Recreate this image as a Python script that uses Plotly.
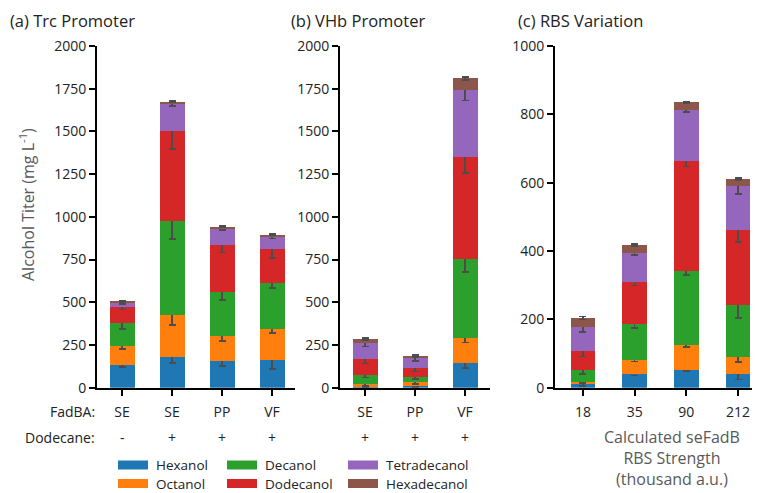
import plotly.graph_objects as go

W, H = 760, 493

species = ["Hexanol", "Octanol", "Decanol", "Dodecanol", "Tetradecanol", "Hexadecanol"]
colors = ["#1f77b4", "#ff7f0e", "#2ca02c", "#d62728", "#9467bd", "#8c564b"]

# Panel (a) Trc promoter
a_fadba = ["SE", "SE", "PP", "VF"]
a_dodecane = ["-", "+", "+", "+"]
a_vals = {
    "Hexanol":      [133, 178, 158, 162],
    "Octanol":      [113, 246, 145, 179],
    "Decanol":      [133, 549, 259, 269],
    "Dodecanol":    [96, 531, 272, 199],
    "Tetradecanol": [25, 158, 96, 74],
    "Hexadecanol":  [4, 13, 13, 12],
}
a_err = {
    "Hexanol":      [10, 34, 29, 54],
    "Octanol":      [18, 55, 30, 20],
    "Decanol":      [37, 103, 48, 28],
    "Dodecanol":    [18, 105, 42, 50],
    "Tetradecanol": [10, 15, 8, 10],
    "Hexadecanol":  [4, 6, 5, 5],
}

# Panel (b) VHb promoter
b_fadba = ["SE", "PP", "VF"]
b_dodecane = ["+", "+", "+"]
b_vals = {
    "Hexanol":      [5, 12, 143],
    "Octanol":      [15, 19, 150],
    "Decanol":      [54, 30, 461],
    "Dodecanol":    [92, 52, 596],
    "Tetradecanol": [94, 59, 393],
    "Hexadecanol":  [25, 15, 67],
}
b_err = {
    "Hexanol":      [5, 8, 29],
    "Octanol":      [8, 10, 28],
    "Decanol":      [15, 12, 78],
    "Dodecanol":    [25, 18, 95],
    "Tetradecanol": [18, 15, 62],
    "Hexadecanol":  [6, 6, 10],
}

# Panel (c) RBS variation
c_rbs = ["18", "35", "90", "212"]
c_vals = {
    "Hexanol":      [10, 39, 52, 41],
    "Octanol":      [8, 42, 72, 50],
    "Decanol":      [33, 104, 218, 152],
    "Dodecanol":    [57, 125, 322, 219],
    "Tetradecanol": [70, 84, 150, 127],
    "Hexadecanol":  [26, 23, 21, 21],
}
c_err = {
    "Hexanol":      [4, 3, 3, 17],
    "Octanol":      [4, 4, 4, 15],
    "Decanol":      [10, 11, 13, 40],
    "Dodecanol":    [17, 11, 17, 35],
    "Tetradecanol": [14, 6, 8, 22],
    "Hexadecanol":  [4, 3, 2, 3],
}

a_ticks = [0, 250, 500, 750, 1000, 1250, 1500, 1750, 2000]
c_ticks = [0, 200, 400, 600, 800, 1000]


def px(x):
    return x / W


def py(y):
    return 1 - y / H


fig = go.Figure()

ERR = dict(type="data", visible=True, color="#4d4d4d", thickness=1.7, width=3.5)

panels = [
    ("x", "y", list(range(len(a_fadba))), a_vals, a_err, 0.5),
    ("x2", "y2", list(range(len(b_fadba))), b_vals, b_err, 0.5),
    ("x3", "y3", c_rbs, c_vals, c_err, 0.48),
]
for xa, ya, xs, vals, errs, bw in panels:
    for sp, col in zip(species, colors):
        fig.add_trace(go.Bar(
            x=xs, y=vals[sp], name=sp, xaxis=xa, yaxis=ya,
            marker=dict(color=col, line=dict(width=0)), width=bw,
            error_y=dict(array=errs[sp], **ERR), showlegend=False,
        ))

ydom = [py(387.7), py(46)]
TICKFONT = dict(family="Open Sans, Arial", size=14, color="#222222")
common_y = dict(showline=True, linecolor="black", linewidth=2, ticks="outside", ticklen=6,
                tickwidth=1.5, tickcolor="black", showgrid=False, zeroline=False,
                tickfont=TICKFONT, automargin=False, domain=ydom)
common_x = dict(showline=True, linecolor="black", linewidth=2, ticks="outside", ticklen=6,
                tickwidth=1.5, tickcolor="black", showgrid=False, zeroline=False,
                tickfont=TICKFONT, ticklabelstandoff=4, automargin=False)

fig.update_layout(
    template="none",
    width=W, height=H, margin=dict(l=0, r=0, t=0, b=0, pad=0, autoexpand=False),
    paper_bgcolor="white", plot_bgcolor="white", barmode="stack",
    font=dict(family="Open Sans, Arial", color="#222222"),
    xaxis=dict(domain=[px(97), px(295)], range=[-0.5, 3.46], tickvals=list(range(4)),
               ticktext=a_fadba, anchor="y", **common_x),
    yaxis=dict(range=[0, 2000], tickvals=a_ticks, anchor="x", **common_y),
    xaxis2=dict(domain=[px(340), px(490)], range=[-0.5, 2.5], tickvals=list(range(3)),
                ticktext=b_fadba, anchor="y2", **common_x),
    yaxis2=dict(range=[0, 2000], tickvals=a_ticks, anchor="x2", **common_y),
    xaxis3=dict(domain=[px(555), px(752)], range=[-0.54, 3.27], type="category", anchor="y3", **common_x),
    yaxis3=dict(range=[0, 1000], tickvals=c_ticks, anchor="x3", **common_y),
)

ann = []
TITLEFONT = dict(family="Open Sans, Arial", size=16.5, color="#222222")
for txt, x in [("(a) Trc Promoter", 8), ("(b) VHb Promoter", 289), ("(c) RBS Variation", 516)]:
    ann.append(dict(text=txt, x=px(x), y=py(20), xref="paper", yref="paper", xanchor="left",
                    yanchor="middle", showarrow=False, font=TITLEFONT))

ann.append(dict(text="Alcohol Titer (mg L<sup>-1</sup>)", x=px(27), y=py(205), xref="paper", yref="paper",
                textangle=-90, showarrow=False, xanchor="center", yanchor="middle",
                font=dict(family="Open Sans, Arial", size=16, color="#595959")))

# Row labels under panels (a) and (b)
ann.append(dict(text="FadBA:", x=px(97), y=py(411), xref="paper", yref="paper", xanchor="right",
                yanchor="middle", showarrow=False, font=TICKFONT))
ann.append(dict(text="Dodecane:", x=px(97), y=py(437), xref="paper", yref="paper", xanchor="right",
                yanchor="middle", showarrow=False, font=TICKFONT))
for i, s in enumerate(a_dodecane):
    ann.append(dict(text=s, x=i, xref="x", y=py(437), yref="paper", showarrow=False,
                    yanchor="middle", font=TICKFONT))
for i, s in enumerate(b_dodecane):
    ann.append(dict(text=s, x=i, xref="x2", y=py(437), yref="paper", showarrow=False,
                    yanchor="middle", font=TICKFONT))

ann.append(dict(text="Calculated seFadB<br>RBS Strength<br>(thousand a.u.)", x=px(672), y=py(458),
                xref="paper", yref="paper", xanchor="center", yanchor="middle", showarrow=False,
                align="center", font=dict(family="Open Sans, Arial", size=16, color="#595959")))

# Legend (manual, 3 columns x 2 rows)
shapes = []
col_sw = [118, 227, 348]
row_y = [465, 483.5]
for i, (sp, col) in enumerate(zip(species, colors)):
    c, r = i // 2, i % 2
    x0 = col_sw[c]
    yc = row_y[r]
    shapes.append(dict(type="rect", xref="paper", yref="paper", x0=px(x0), x1=px(x0 + 30),
                       y0=py(yc + 4.5), y1=py(yc - 4.5), fillcolor=col, line=dict(width=0)))
    ann.append(dict(text=sp, x=px(x0 + 36), y=py(yc), xref="paper", yref="paper", xanchor="left",
                    yanchor="middle", showarrow=False,
                    font=dict(family="Open Sans, Arial", size=13.5, color="#222222")))

fig.update_layout(annotations=ann, shapes=shapes)
fig.write_html("out.html", config={"displayModeBar": False},
               post_script="document.body.style.margin='0';")
